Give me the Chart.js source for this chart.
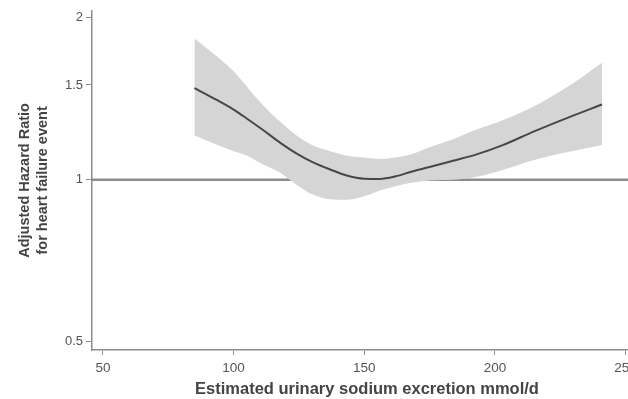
<!DOCTYPE html>
<html>
<head>
<meta charset="utf-8">
<script src="https://cdn.jsdelivr.net/npm/chart.js@4"></script>
<style>
  body { margin: 0; background: #fff; overflow: hidden; }
  #wrap { width: 628px; height: 399px; overflow: hidden; }
</style>
</head>
<body>
<div id="wrap"><canvas id="grafico" width="650" height="399"></canvas></div>
<script>
// valores
const sodio = [85, 92, 100, 105, 111, 118, 124, 130, 137, 143, 150, 156, 162, 168, 175, 184, 193, 203, 215, 228, 241];
const hazard = [1.48, 1.42, 1.35, 1.30, 1.24, 1.17, 1.12, 1.08, 1.045, 1.02, 1.005, 1.004, 1.015, 1.035, 1.056, 1.085, 1.115, 1.16, 1.23, 1.305, 1.38];
const superior = [1.83, 1.72, 1.59, 1.49, 1.38, 1.28, 1.21, 1.16, 1.13, 1.11, 1.10, 1.093, 1.10, 1.116, 1.15, 1.19, 1.24, 1.29, 1.37, 1.49, 1.65];
const inferior = [1.21, 1.17, 1.13, 1.11, 1.07, 1.03, 0.98, 0.94, 0.92, 0.918, 0.932, 0.955, 0.973, 0.987, 0.997, 1.0, 1.013, 1.043, 1.088, 1.126, 1.16];

const referenciaX = [45.8, 256.3];
const referenciaY = [1, 1];

const ticksX = [50, 100, 150, 200, 250];
const ticksY = [0.5, 1, 1.5, 2];

const aPuntos = (xs, ys) => xs.map((x, i) => ({ x: x, y: ys[i] }));

const ctx = document.getElementById('grafico').getContext('2d');

const myChart = new Chart(ctx, {
    type: 'line',
    data: {
        datasets: [
            {
                label: 'referencia',
                data: aPuntos(referenciaX, referenciaY),
                borderColor: '#8c8c8c',
                borderWidth: 2.5,
                pointRadius: 0,
                fill: false,
                order: 3
            },
            {
                label: 'superior',
                data: aPuntos(sodio, superior),
                borderWidth: 0,
                borderColor: 'rgba(0,0,0,0)',
                backgroundColor: '#d5d5d5',
                pointRadius: 0,
                cubicInterpolationMode: 'monotone',
                fill: '+1',
                order: 2
            },
            {
                label: 'inferior',
                data: aPuntos(sodio, inferior),
                borderWidth: 0,
                borderColor: 'rgba(0,0,0,0)',
                pointRadius: 0,
                cubicInterpolationMode: 'monotone',
                fill: false,
                order: 2
            },
            {
                label: 'Adjusted Hazard Ratio',
                data: aPuntos(sodio, hazard),
                borderColor: '#474747',
                borderWidth: 2,
                pointRadius: 0,
                cubicInterpolationMode: 'monotone',
                fill: false,
                order: 1
            }
        ]
    },
    options: {
        responsive: false,
        animation: false,
        layout: { padding: { top: 7, right: 8, bottom: 0, left: 0 } },
        plugins: {
            legend: { display: false },
            tooltip: { enabled: false }
        },
        scales: {
            x: {
                type: 'linear',
                min: 45.8,
                max: 256.3,
                afterBuildTicks: (axis) => { axis.ticks = ticksX.map(v => ({ value: v })); },
                afterFit: (axis) => { axis.height = 49; },
                grid: { drawOnChartArea: false, tickLength: 5, color: '#8c8c8c' },
                border: { color: '#8c8c8c', width: 1.5 },
                ticks: {
                    color: '#555',
                    padding: 5,
                    maxRotation: 0,
                    font: { family: 'Liberation Sans', size: 13.5 }
                },
                title: {
                    display: true,
                    text: 'Estimated urinary sodium excretion mmol/d',
                    color: '#444',
                    padding: { top: 0, bottom: 0 },
                    font: { family: 'Liberation Sans', size: 16.5, weight: 'bold' }
                }
            },
            y: {
                type: 'logarithmic',
                min: 0.483,
                max: 2.06,
                afterBuildTicks: (axis) => { axis.ticks = ticksY.map(v => ({ value: v })); },
                afterFit: (axis) => { axis.width = 92; },
                grid: { drawOnChartArea: false, tickLength: 6, color: '#8c8c8c' },
                border: { color: '#8c8c8c', width: 1.5 },
                ticks: {
                    color: '#555',
                    padding: 3,
                    callback: (v) => String(v),
                    font: { family: 'Liberation Sans', size: 13 }
                },
                title: {
                    display: true,
                    text: ['Adjusted Hazard Ratio', 'for heart failure event'],
                    color: '#444',
                    padding: { top: 16, bottom: 0 },
                    font: { family: 'Liberation Sans', size: 14.5, weight: 'bold', lineHeight: 1.25 }
                }
            }
        }
    }
});
</script>
</body>
</html>
